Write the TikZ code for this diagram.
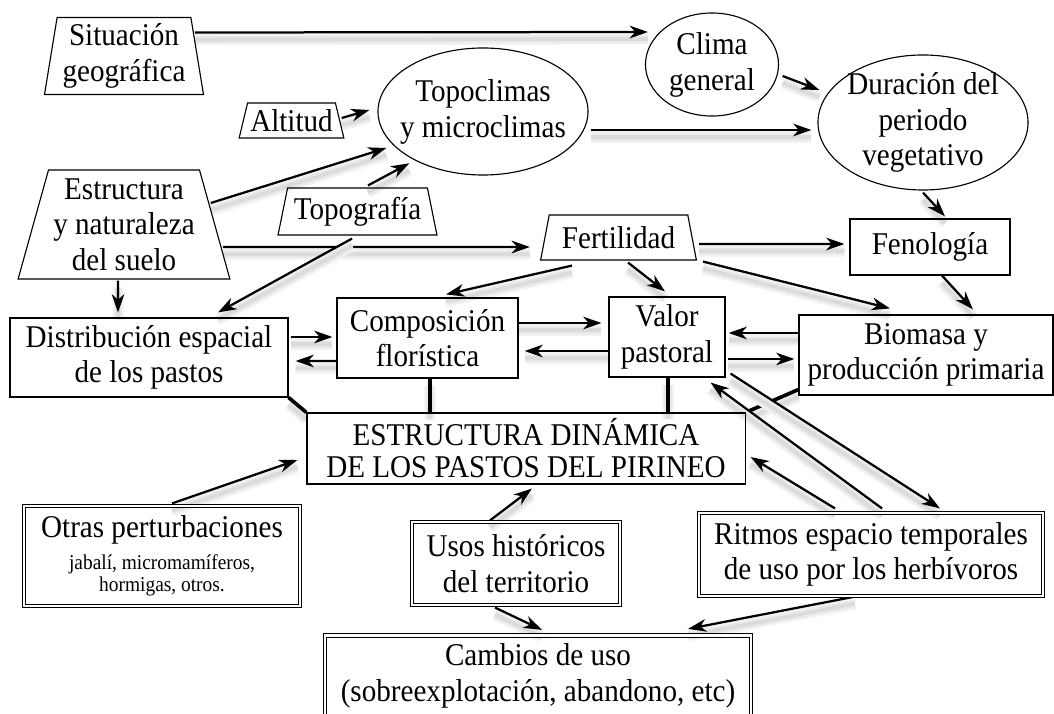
\documentclass[tikz,border=0pt]{standalone}
\usepackage{fontspec}
\setmainfont{Liberation Serif}[FakeStretch=0.92]
\usetikzlibrary{calc,arrows.meta,shapes.geometric,backgrounds}

\newcommand{\ovaltxt}[1]{\makebox[0pt]{\raisebox{-.25em}[0pt][0pt]{\begin{tabular}{@{}c@{}}#1\end{tabular}}}}

\tikzset{
  every node/.style={font=\fontsize{22.5}{25.3}\selectfont, align=center},
  box/.style={draw, line width=0.8pt, rectangle, inner sep=2pt},
  dbox/.style={box, double, double distance=1.8pt, line width=0.8pt},
  trap/.style={draw, line width=0.8pt, trapezium, trapezium stretches=true, inner sep=1pt},
  oval/.style={draw, line width=0.8pt, ellipse, inner sep=0pt},
  shadowed/.style={
    preaction={draw=black!5, line width=8pt, -, transform canvas={yshift=-5pt}},
    preaction={draw=black!9, line width=5pt, -, transform canvas={yshift=-5pt}},
    preaction={draw=black!14, line width=2.5pt, -, transform canvas={yshift=-5pt}}},
  arr/.style={-{Stealth[length=13pt,width=9pt,inset=4pt]}, line width=1.6pt, shadowed},
  link/.style={line width=2.6pt, shadowed},
}

\begin{document}
\begin{tikzpicture}[x=0.025cm, y=-0.025cm]
  \useasboundingbox (0,0) rectangle (1054,714);

  \node[trap, trapezium angle=80, minimum width=3.975cm, minimum height=1.925cm] (sit) at (124,56) {Situación\\geográfica};
  \node[oval, minimum width=3.325cm, minimum height=2.575cm] (clima) at (712,64.5) {\ovaltxt{Clima\\general}};
  \node[oval, minimum width=5.25cm, minimum height=3.175cm] (topo) at (483,111.5) {\ovaltxt{Topoclimas\\y microclimas}};
  \node[oval, minimum width=5.25cm, minimum height=3.375cm] (dur) at (923,122.5) {\ovaltxt{Duración del\\periodo\\vegetativo}};
  \node[trap, trapezium angle=72, minimum width=2.625cm, minimum height=0.875cm] (alt) at (291.5,120.5) {Altitud};
  \node[trap, trapezium angle=73, minimum width=5.3cm, minimum height=2.725cm] (est) at (124,224.5) {Estructura\\y naturaleza\\del suelo};
  \node[trap, trapezium angle=74.5, minimum width=3.975cm, minimum height=1.175cm] (topog) at (357.5,211.5) {Topografía};
  \node[trap, trapezium angle=74, minimum width=3.925cm, minimum height=1.125cm] (fert) at (618.5,237.5) {Fertilidad};
  \node[box, minimum width=4cm, minimum height=1.4cm] (fen) at (930,247) {Fenología};
  \node[box, minimum width=6.95cm, minimum height=1.975cm] (dist) at (149,357.5) {Distribución espacial\\de los pastos};
  \node[box, minimum width=4.525cm, minimum height=2cm] (comp) at (427.5,338) {Composición\\florística};
  \node[box, minimum width=2.9cm, minimum height=2cm] (val) at (667,337) {Valor\\pastoral};
  \node[box, minimum width=6.35cm, minimum height=2cm] (bio) at (926,355) {Biomasa y\\producción primaria};
  \node[box, minimum width=10.95cm, minimum height=1.775cm] (edp) at (526,448.5) {ESTRUCTURA DINÁMICA\\[-2.6pt]DE LOS PASTOS DEL PIRINEO};
  \node[dbox, minimum width=6.9cm, minimum height=2.5cm] (otras) at (162,556) {Otras perturbaciones\\[-2.5pt]{\fontsize{15}{15}\selectfont jabalí, micromamíferos,}\\[-9.5pt]{\fontsize{15}{15}\selectfont hormigas, otros.}};
  \node[dbox, minimum width=5.2cm, minimum height=2.075cm] (usos) at (516,563.5) {Usos históricos\\del territorio};
  \node[dbox, minimum width=8.6cm, minimum height=2.075cm] (ritmos) at (871,554.5) {Ritmos espacio temporales\\de uso por los herbívoros};
  \node[dbox, minimum width=10.65cm, minimum height=2.025cm] (camb) at (538,676) {Cambios de uso\\(sobreexplotación, abandono, etc)};

  \begin{scope}[on background layer]
    \draw[arr] ($(sit.east)+(-3,-23.5)$) -- ($(clima.west)+(3,-32.5)$);
    \draw[arr] ($(clima.east)+(3.5,11.5)$) -- ($(dur.west)+(2,-32.5)$);
    \draw[arr] ($(topo.east)+(2,18.5)$) -- ($(dur.west)+(-6,7.5)$);
    \draw[arr] ($(alt.east)+(1.5,-2.5)$) -- ($(topo.west)+(-8,-1.5)$);
    \draw[arr] ($(est.east)+(-4.5,-21.5)$) -- ($(topo.west)+(9,36.5)$);
    \draw[arr] ($(topog.north)+(10.5,-2)$) -- ($(topo.south west)+(1,6.5)$);
    \draw[arr] ($(est.east)+(7.5,22.5)$) -- ($(fert.west)+(-14.5,9.5)$);
    \draw[arr] ($(topog.south)+(-5.5,3)$) -- ($(dist.north)+(69,-5)$);
    \draw[arr] ($(est.south)+(-6,1)$) -- ($(dist.north)+(-31,-5)$);
    \draw[arr] ($(fert.east)+(6.5,6.5)$) -- ($(fen.west)+(-5,-3)$);
    \draw[arr] ($(dur.south)+(0,2)$) -- ($(fen.north)+(15,-2)$);
    \draw[arr] ($(fert.south)+(-46.5,5)$) -- ($(comp.north)+(18.5,-3)$);
    \draw[arr] ($(fert.south)+(9.5,2)$) -- ($(val.north)+(-2,-5)$);
    \draw[arr] ($(fert.bottom right corner)+(6,1)$) -- ($(bio.north)+(-36,-6)$);
    \draw[arr] ($(fen.south)+(12,0)$) -- ($(bio.north)+(47,-5)$);
    \draw[arr] ($(dist.east)+(2,-20.5)$) -- ($(comp.west)+(-4,-1)$);
    \draw[arr] ($(comp.west)+(0,23)$) -- ($(dist.east)+(7,3.5)$);
    \draw[arr] ($(comp.east)+(0,-15)$) -- ($(val.west)+(-7,-14)$);
    \draw[arr] ($(val.west)+(0,14)$) -- ($(comp.east)+(6,13)$);
    \draw[arr] ($(bio.west)+(0,-22)$) -- ($(val.east)+(3,-4)$);
    \draw[arr] ($(val.east)+(2,22)$) -- ($(bio.west)+(-4,4)$);
    \draw[link] (dist.south east) -- (edp.north west);
    \draw[link] ($(comp.south)+(2.5,0)$) -- ($(edp.north)+(-96,0)$);
    \draw[link] ($(val.south)+(1,0)$) -- ($(edp.north)+(142,0)$);
    \draw[link] ($(bio.south west)+(0,-6)$) -- (edp.north east);
    \draw[arr] ($(val.south east)+(5,-4)$) -- ($(ritmos.north)+(69,-4)$);
    \draw[arr] ($(ritmos.north)+(11,-4)$) -- ($(val.south east)+(-15,5)$);
    \draw[arr] ($(ritmos.north)+(-36,-4)$) -- ($(edp.east)+(5,8.5)$);
    \draw[arr] ($(otras.north)+(10,-2)$) -- ($(edp.west)+(-9,11.5)$);
    \draw[arr] ($(usos.north)+(-26,-1)$) -- ($(edp.south)+(6,4)$);
    \draw[arr] ($(usos.south)+(-21,2)$) -- ($(camb.north)+(4,-5)$);
    \draw[arr] ($(ritmos.south)+(-16,0)$) -- ($(camb.north)+(150,-6)$);
  \end{scope}
\end{tikzpicture}
\end{document}
